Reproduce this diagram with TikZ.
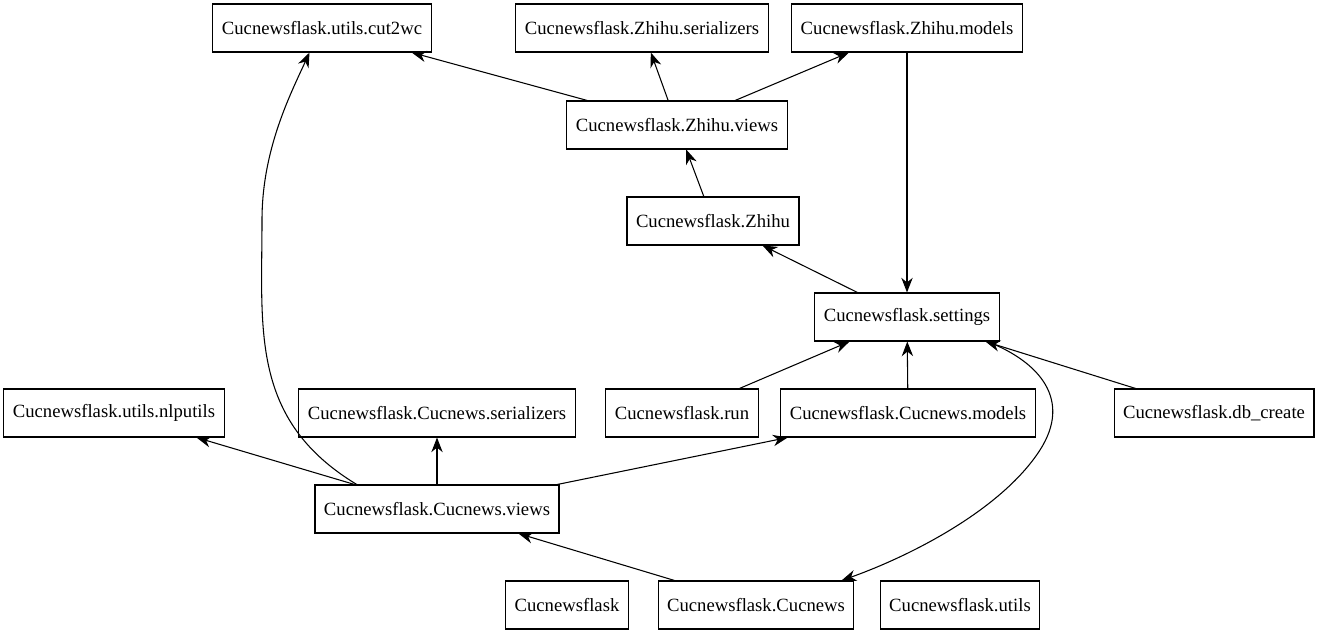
\documentclass[tikz,border=0pt]{standalone}
\usepackage{fontspec}
\setmainfont{Liberation Serif}
\usetikzlibrary{arrows.meta}

\begin{document}
\begin{tikzpicture}[thick, x=0.75pt, y=-0.75pt,
		mod/.style={rectangle,draw=black,font=\fontsize{14}{16}\selectfont,inner xsep=6.75pt,minimum height=36pt},
		dep/.style={-{Stealth[length=11pt,width=8.5pt,inset=3.5pt]}}
		]
	\useasboundingbox (0,0) rectangle (1323,635);
	% top row
	\node [mod] (cut2wc) at (322,28) {Cucnewsflask.utils.cut2wc};
	\node [mod] (zser) at (642,28) {Cucnewsflask.Zhihu.serializers};
	\node [mod] (zmodels) at (907,28) {Cucnewsflask.Zhihu.models};
	\node [mod] (zviews) at (677,125) {Cucnewsflask.Zhihu.views};
	\node [mod] (zhihu) at (713,221) {Cucnewsflask.Zhihu};
	\node [mod] (settings) at (907,317) {Cucnewsflask.settings};
	% middle row
	\node [mod] (nlputils) at (114,413) {Cucnewsflask.utils.nlputils};
	\node [mod] (cser) at (437,413) {Cucnewsflask.Cucnews.serializers};
	\node [mod] (run) at (682,413) {Cucnewsflask.run};
	\node [mod] (cmodels) at (908,413) {Cucnewsflask.Cucnews.models};
	\node [mod] (dbcreate) at (1214,413) {Cucnewsflask.db\_create};
	\node [mod] (cviews) at (437,509) {Cucnewsflask.Cucnews.views};
	% bottom row
	\node [mod] (pkg) at (567,605) {Cucnewsflask};
	\node [mod] (cucnews) at (756,605) {Cucnewsflask.Cucnews};
	\node [mod] (utils) at (960,605) {Cucnewsflask.utils};

	\draw [dep] (zviews) -- (cut2wc);
	\draw [dep] (zviews) -- (zser);
	\draw [dep] (zviews) -- (zmodels);
	\draw [dep] (zmodels) -- (settings);
	\draw [dep] (zhihu) -- (zviews);
	\draw [dep] (settings) -- (zhihu);
	\draw [dep] (run) -- (settings);
	\draw [dep] (cmodels) -- (settings);
	\draw [dep] (dbcreate) -- (settings);
	\draw [dep] (cviews) -- (nlputils);
	\draw [dep] (cviews) -- (cser);
	\draw [dep] (cviews) -- (cmodels);
	\draw [dep] (cucnews) -- (cviews);
	\draw [dep] (cviews.163) .. controls (250,420) and (262,330) .. (262,220)
		.. controls (262,150) and (290,95) .. (cut2wc.243);
	\draw [dep] (settings.343) .. controls (1040,362) and (1072,400) .. (1040,450)
		.. controls (1000,512) and (905,558) .. (cucnews.16);
\end{tikzpicture}
\end{document}
